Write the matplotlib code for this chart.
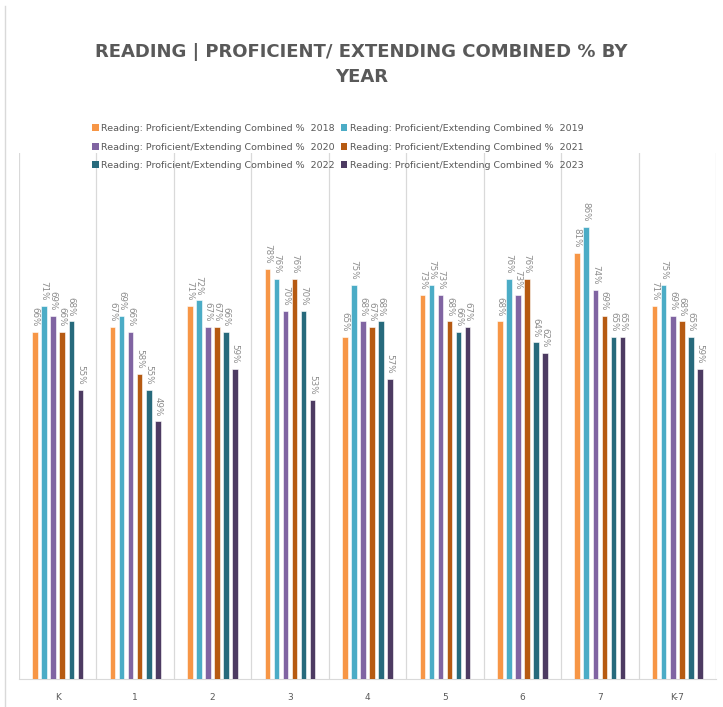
import matplotlib
matplotlib.use("Agg")
import matplotlib.pyplot as plt
import numpy as np
from matplotlib.lines import Line2D
from matplotlib.patches import Patch

categories = ["K", "1", "2", "3", "4", "5", "6", "7", "K-7"]
series_names = [
    "Reading: Proficient/Extending Combined %  2018",
    "Reading: Proficient/Extending Combined %  2019",
    "Reading: Proficient/Extending Combined %  2020",
    "Reading: Proficient/Extending Combined %  2021",
    "Reading: Proficient/Extending Combined %  2022",
    "Reading: Proficient/Extending Combined %  2023",
]
v2018 = [66, 67, 71, 78, 65, 73, 68, 81, 71]
v2019 = [71, 69, 72, 76, 75, 75, 76, 86, 75]
v2020 = [69, 66, 67, 70, 68, 73, 73, 74, 69]
v2021 = [66, 58, 67, 76, 67, 68, 76, 69, 68]
v2022 = [68, 55, 66, 70, 68, 66, 64, 65, 65]
v2023 = [55, 49, 59, 53, 57, 67, 62, 65, 59]
series = [v2018, v2019, v2020, v2021, v2022, v2023]
colors = ["#F79646", "#4BACC6", "#8064A2", "#B65A12", "#276A7C", "#4D3B62"]

W, H = 723, 707
fig = plt.figure(figsize=(W / 100, H / 100), dpi=100)
ax = fig.add_axes([19 / W, (H - 679) / H, (716 - 19) / W, (679 - 153) / H])

n = len(series)
x = np.arange(len(categories))
slot = 0.117
bw = 0.072
for i, (vals, c) in enumerate(zip(series, colors)):
    off = (i - (n - 1) / 2) * slot
    ax.bar(x + off, vals, width=bw, color=c, edgecolor="white", linewidth=0.4, zorder=3)
    for xi, v in zip(x + off, vals):
        ax.text(xi, v + 1.0, f"{v}%", rotation=270, ha="center", va="bottom",
                fontsize=6.3, color="#8C8C8C", zorder=4)

ax.set_xlim(-0.5, len(categories) - 0.5)
ax.set_ylim(0, 100)
for b in np.arange(-0.5, len(categories), 1.0):
    ax.axvline(b, color="#D9D9D9", linewidth=0.9, zorder=1)
for s in ["top", "right", "left"]:
    ax.spines[s].set_visible(False)
ax.spines["bottom"].set_color("#D9D9D9")
ax.set_yticks([])
ax.set_xticks(x)
ax.set_xticklabels(categories, fontsize=6.5, color="#595959")
ax.tick_params(axis="x", length=0, pad=10)
ax.set_facecolor("none")

fig.text(0.5, (H - 52) / H, "READING | PROFICIENT/ EXTENDING COMBINED % BY",
         ha="center", va="center", fontsize=13, fontweight="bold", color="#595959")
fig.text(0.5, (H - 77) / H, "YEAR",
         ha="center", va="center", fontsize=13, fontweight="bold", color="#595959")

# legend fills column-major; reorder so rows read 2018/2019, 2020/2021, 2022/2023
order = [0, 2, 4, 1, 3, 5]
handles = [Patch(facecolor=colors[k], edgecolor="none") for k in order]
labels = [series_names[k] for k in order]
fig.legend(handles, labels, ncol=2, loc="center",
           bbox_to_anchor=(338 / W, (H - 147) / H), frameon=False,
           fontsize=6.8, labelcolor="#595959", handlelength=0.7, handleheight=0.7,
           handletextpad=0.3, columnspacing=0.6, labelspacing=1.0)

fig.add_artist(Line2D([5 / W, 5 / W], [0, 1 - 6 / H], transform=fig.transFigure,
                      color="#D9D9D9", linewidth=1))

fig.savefig("out.png", dpi=100)
